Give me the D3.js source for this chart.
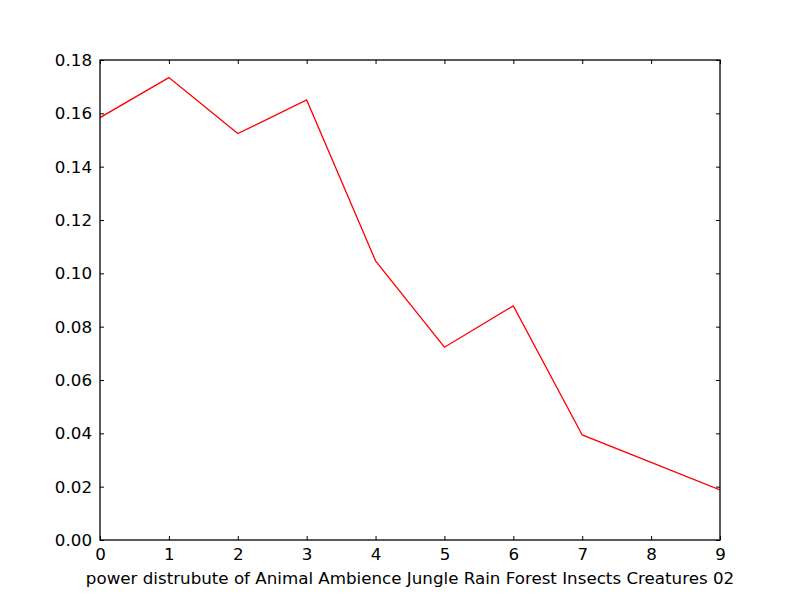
<!DOCTYPE html>
<html>
<head>
<meta charset="utf-8">
<script src="https://cdn.jsdelivr.net/npm/d3@7"></script>
<style>
  body { margin: 0; background: #fff; }
  text { font-family: "DejaVu Sans", sans-serif; }
</style>
</head>
<body>
<svg id="canvas"></svg>
<script>
let xValues = [0, 1, 2, 3, 4, 5, 6, 7, 8, 9];
let powerValues = [0.1584, 0.1734, 0.1524, 0.1650, 0.1047, 0.0723, 0.0878, 0.0394, 0.0291, 0.0188];
let yTicks = [0, 0.02, 0.04, 0.06, 0.08, 0.10, 0.12, 0.14, 0.16, 0.18];
let xLabel = 'power distrubute of Animal Ambience Jungle Rain Forest Insects Creatures 02';

let w = 800;
let h = 600;
let padLeft = 100, padRight = 720, padTop = 60, padBottom = 540;

let canvas = d3.select('#canvas').attr('width', w).attr('height', h);

let xScale = d3.scaleLinear().domain([0, 9]).range([padLeft, padRight]);
let yScale = d3.scaleLinear().domain([0, 0.18]).range([padBottom, padTop]);

// inward ticks on all four sides, classic style
const drawAxes = () => {
  let xb = d3.axisBottom(xScale).tickValues(xValues).tickFormat(d3.format('d'))
    .tickSizeInner(-4).tickSizeOuter(0).tickPadding(8);
  let xt = d3.axisTop(xScale).tickValues(xValues).tickFormat('')
    .tickSizeInner(-4).tickSizeOuter(0);
  let yl = d3.axisLeft(yScale).tickValues(yTicks).tickFormat(d3.format('.2f'))
    .tickSizeInner(-4).tickSizeOuter(0).tickPadding(8);
  let yr = d3.axisRight(yScale).tickValues(yTicks).tickFormat('')
    .tickSizeInner(-4).tickSizeOuter(0);

  let g1 = canvas.append('g').attr('transform', 'translate(0,' + padBottom + ')').call(xb);
  let g2 = canvas.append('g').attr('transform', 'translate(0,' + padTop + ')').call(xt);
  let g3 = canvas.append('g').attr('transform', 'translate(' + padLeft + ',0)').call(yl);
  let g4 = canvas.append('g').attr('transform', 'translate(' + padRight + ',0)').call(yr);

  [g1, g2, g3, g4].forEach(g => {
    g.select('.domain').remove();
    g.selectAll('line').attr('stroke', '#000').attr('stroke-width', 1);
    g.selectAll('text').attr('font-size', 16.7).attr('fill', '#000')
      .style('font-family', '"DejaVu Sans", sans-serif');
  });
  g1.selectAll('text').attr('dy', '0.71em');
};

const drawLine = () => {
  let line = d3.line()
    .x((d, i) => xScale(xValues[i]))
    .y(d => yScale(d));

  canvas.append('defs').append('clipPath').attr('id', 'clip')
    .append('rect').attr('x', padLeft).attr('y', padTop)
    .attr('width', padRight - padLeft).attr('height', padBottom - padTop);

  canvas.append('path')
    .datum(powerValues)
    .attr('d', line)
    .attr('fill', 'none')
    .attr('stroke', '#ff0000')
    .attr('stroke-width', 1.3)
    .attr('clip-path', 'url(#clip)');

  canvas.append('rect')
    .attr('x', padLeft).attr('y', padTop)
    .attr('width', padRight - padLeft).attr('height', padBottom - padTop)
    .attr('fill', 'none').attr('stroke', '#000').attr('stroke-width', 1.3);
};

drawAxes();
drawLine();

canvas.append('text')
  .attr('x', (padLeft + padRight) / 2)
  .attr('y', 584)
  .attr('text-anchor', 'middle')
  .attr('font-size', 16.7)
  .text(xLabel);
</script>
</body>
</html>
